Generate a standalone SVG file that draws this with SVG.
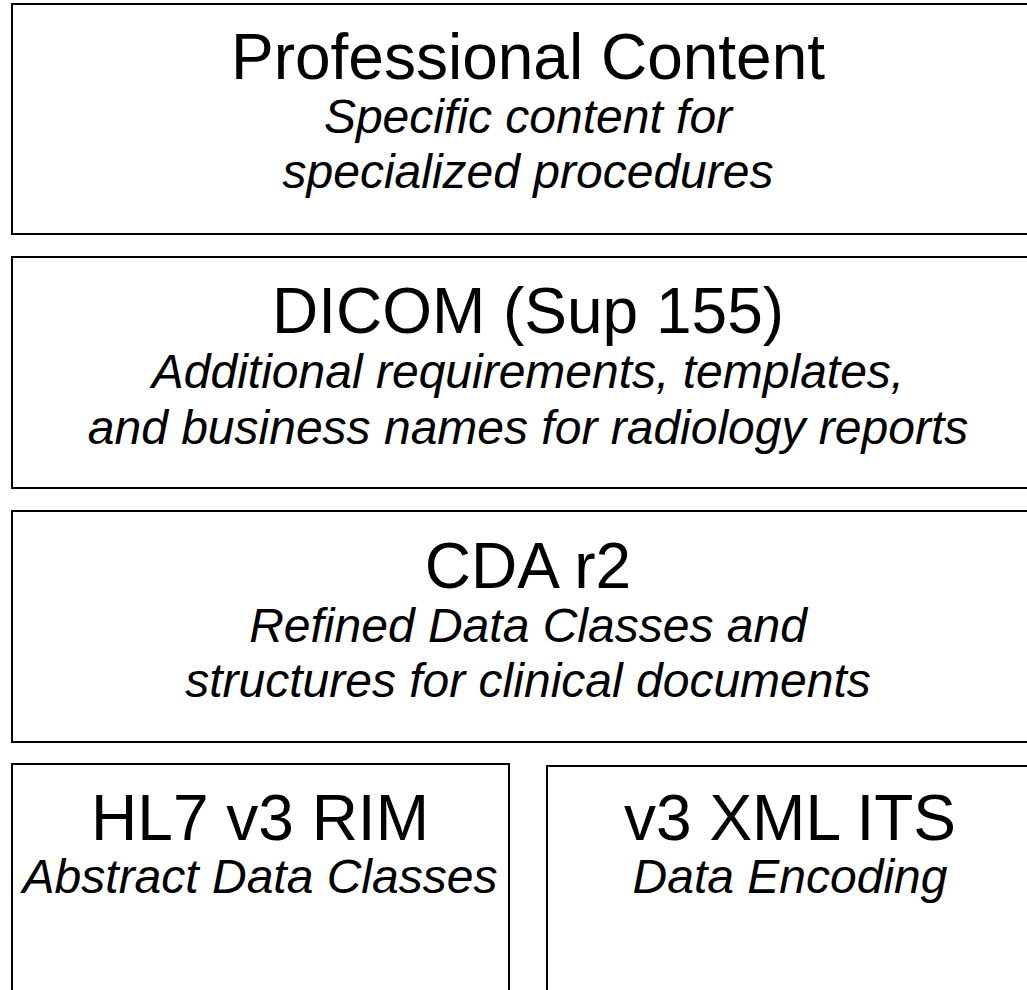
<svg xmlns="http://www.w3.org/2000/svg" width="1027" height="990" viewBox="0 0 1027 990">
<style>
.box{fill:#fff;stroke:#000;stroke-width:2}
.t{font-family:"Liberation Sans",Arial,sans-serif;font-size:64px;fill:#000;text-anchor:middle}
.s{font-family:"Liberation Sans",Arial,sans-serif;font-size:48px;font-style:italic;fill:#000;text-anchor:middle}
</style>
<rect width="1027" height="990" fill="#fff"/>
<g id="professional">
<rect class="box" x="12" y="4" width="1032" height="230"/>
<text class="t" x="528" y="79">Professional Content</text>
<text class="s" x="528" y="133">Specific content for</text>
<text class="s" x="528" y="188">specialized procedures</text>
</g>
<g id="dicom">
<rect class="box" x="12" y="257" width="1032" height="231"/>
<text class="t" x="528" y="333">DICOM (Sup 155)</text>
<text class="s" x="528" y="388">Additional requirements, templates,</text>
<text class="s" x="528" y="444">and business names for radiology reports</text>
</g>
<g id="cda">
<rect class="box" x="12" y="511" width="1032" height="231"/>
<text class="t" x="528" y="588">CDA r2</text>
<text class="s" x="528" y="642">Refined Data Classes and</text>
<text class="s" x="528" y="697">structures for clinical documents</text>
</g>
<g id="rim">
<rect class="box" x="12" y="764" width="497" height="260"/>
<text class="t" x="260" y="840">HL7 v3 RIM</text>
<text class="s" x="260" y="893">Abstract Data Classes</text>
</g>
<g id="its">
<rect class="box" x="547" y="766" width="490" height="260"/>
<text class="t" x="790" y="840">v3 XML ITS</text>
<text class="s" x="790" y="893">Data Encoding</text>
</g>
<g id="connectors"></g>
</svg>
